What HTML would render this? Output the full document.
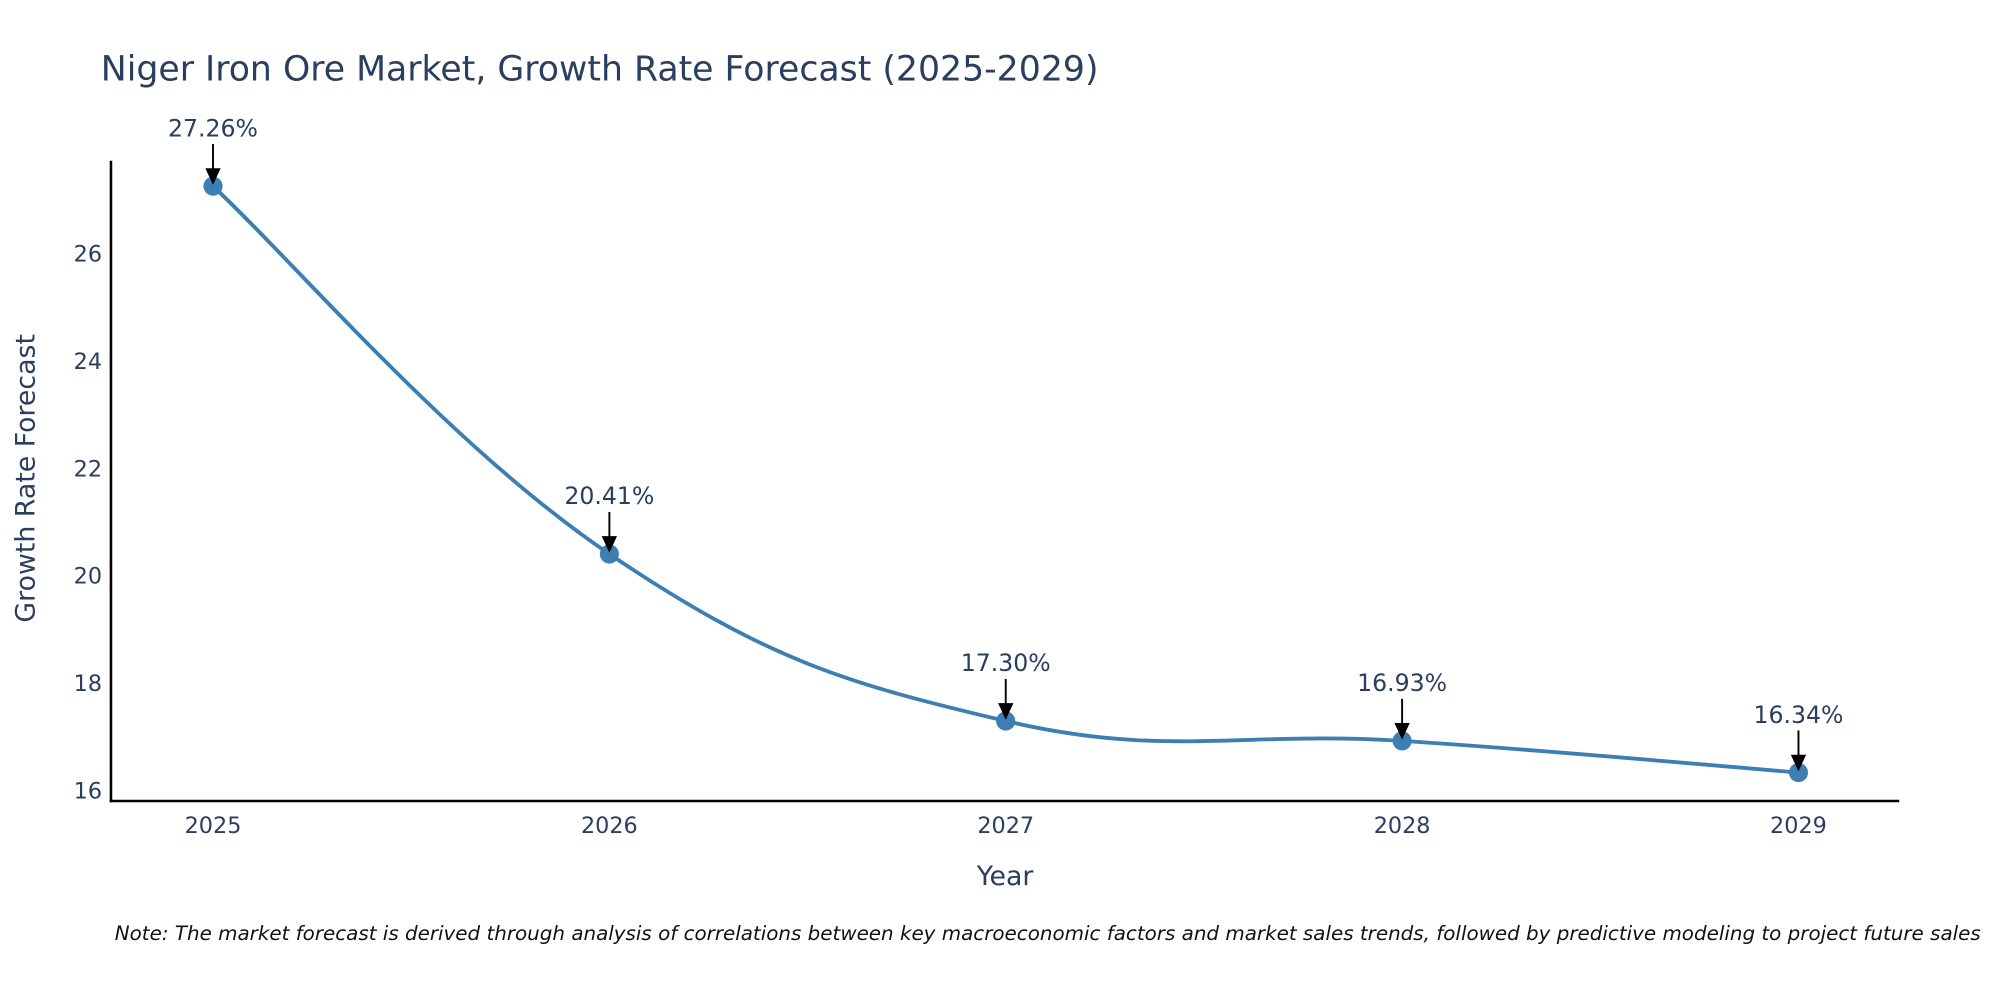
<!DOCTYPE html>
<html><head><meta charset="utf-8"><style>
html,body{margin:0;padding:0;background:#fff;width:2000px;height:1000px;overflow:hidden}
svg{display:block;font-family:"DejaVu Sans","Liberation Sans",sans-serif}
</style></head><body>
<svg id="chart" width="2000" height="1000" viewBox="0 0 1568 784" xmlns="http://www.w3.org/2000/svg">
<text x="79" y="63" font-size="27.2" fill="#2a3f5f">Niger Iron Ore Market, Growth Rate Forecast (2025-2029)</text>
<g id="yt"></g><g id="xt"></g>
<line x1="87" y1="126" x2="87" y2="629" stroke="#000" stroke-width="2"/>
<line x1="86" y1="628" x2="1489" y2="628" stroke="#000" stroke-width="2"/>
<path id="line" fill="none" stroke="#3d7fb3" stroke-width="3"/>
<g id="pts"></g><g id="ann"></g>
<text transform="translate(27,375) rotate(-90)" text-anchor="middle" font-size="21" fill="#2a3f5f">Growth Rate Forecast</text>
<text x="788" y="694" text-anchor="middle" font-size="21" fill="#2a3f5f">Year</text>
<text x="90" y="737" font-size="15.6" font-style="italic" fill="#111">Note: The market forecast is derived through analysis of correlations between key macroeconomic factors and market sales trends, followed by predictive modeling to project future sales</text>
</svg>
<script>
const years=["2025","2026","2027","2028","2029"];
const values=[27.26,20.41,17.30,16.93,16.34];
const labels=["27.26%","20.41%","17.30%","16.93%","16.34%"];
const yTicks=[16,18,20,22,24,26];
const NS="http://www.w3.org/2000/svg";
const xs=i=>167+i*310.75;
const ys=v=>620-(v-16)*42.1;
function mk(t,a,p){const e=document.createElementNS(NS,t);for(const k in a)e.setAttribute(k,a[k]);p.appendChild(e);return e;}
const yt=document.getElementById('yt');
yTicks.forEach(v=>{const t=mk('text',{x:80,y:ys(v)+6,'text-anchor':'end','font-size':17.5,fill:'#2a3f5f'},yt);

t.textContent=v;});
const xt=document.getElementById('xt');
years.forEach((y,i)=>{const t=mk('text',{x:xs(i),y:653,'text-anchor':'middle','font-size':17.5,fill:'#2a3f5f'},xt);

t.textContent=y;});
const P=values.map((v,i)=>[xs(i),ys(v)]);
let d=`M${P[0][0]},${P[0][1]}`;const s=0.2;
for(let i=0;i<P.length-1;i++){const p0=P[Math.max(i-1,0)],p1=P[i],p2=P[i+1],p3=P[Math.min(i+2,P.length-1)];
d+=` C${p1[0]+(p2[0]-p0[0])*s},${p1[1]+(p2[1]-p0[1])*s} ${p2[0]-(p3[0]-p1[0])*s},${p2[1]-(p3[1]-p1[1])*s} ${p2[0]},${p2[1]}`;}
document.getElementById('line').setAttribute('d',d);
const pts=document.getElementById('pts'),ann=document.getElementById('ann');
P.forEach((p,i)=>{const c=mk('circle',{cx:p[0],cy:p[1],r:7.5,fill:'#3d7fb3'},pts);


const l=mk('line',{x1:p[0],y1:p[1]-33,x2:p[0],y2:p[1]-12,stroke:'#000','stroke-width':1.5},ann);


const h=mk('path',{d:`M${p[0]-6},${p[1]-14} L${p[0]+6},${p[1]-14} L${p[0]},${p[1]-1} Z`,fill:'#000'},ann);


const t=mk('text',{x:p[0],y:p[1]-39,'text-anchor':'middle','font-size':18.5,fill:'#2a3f5f'},ann);

t.textContent=labels[i];});
</script>
</body></html>
